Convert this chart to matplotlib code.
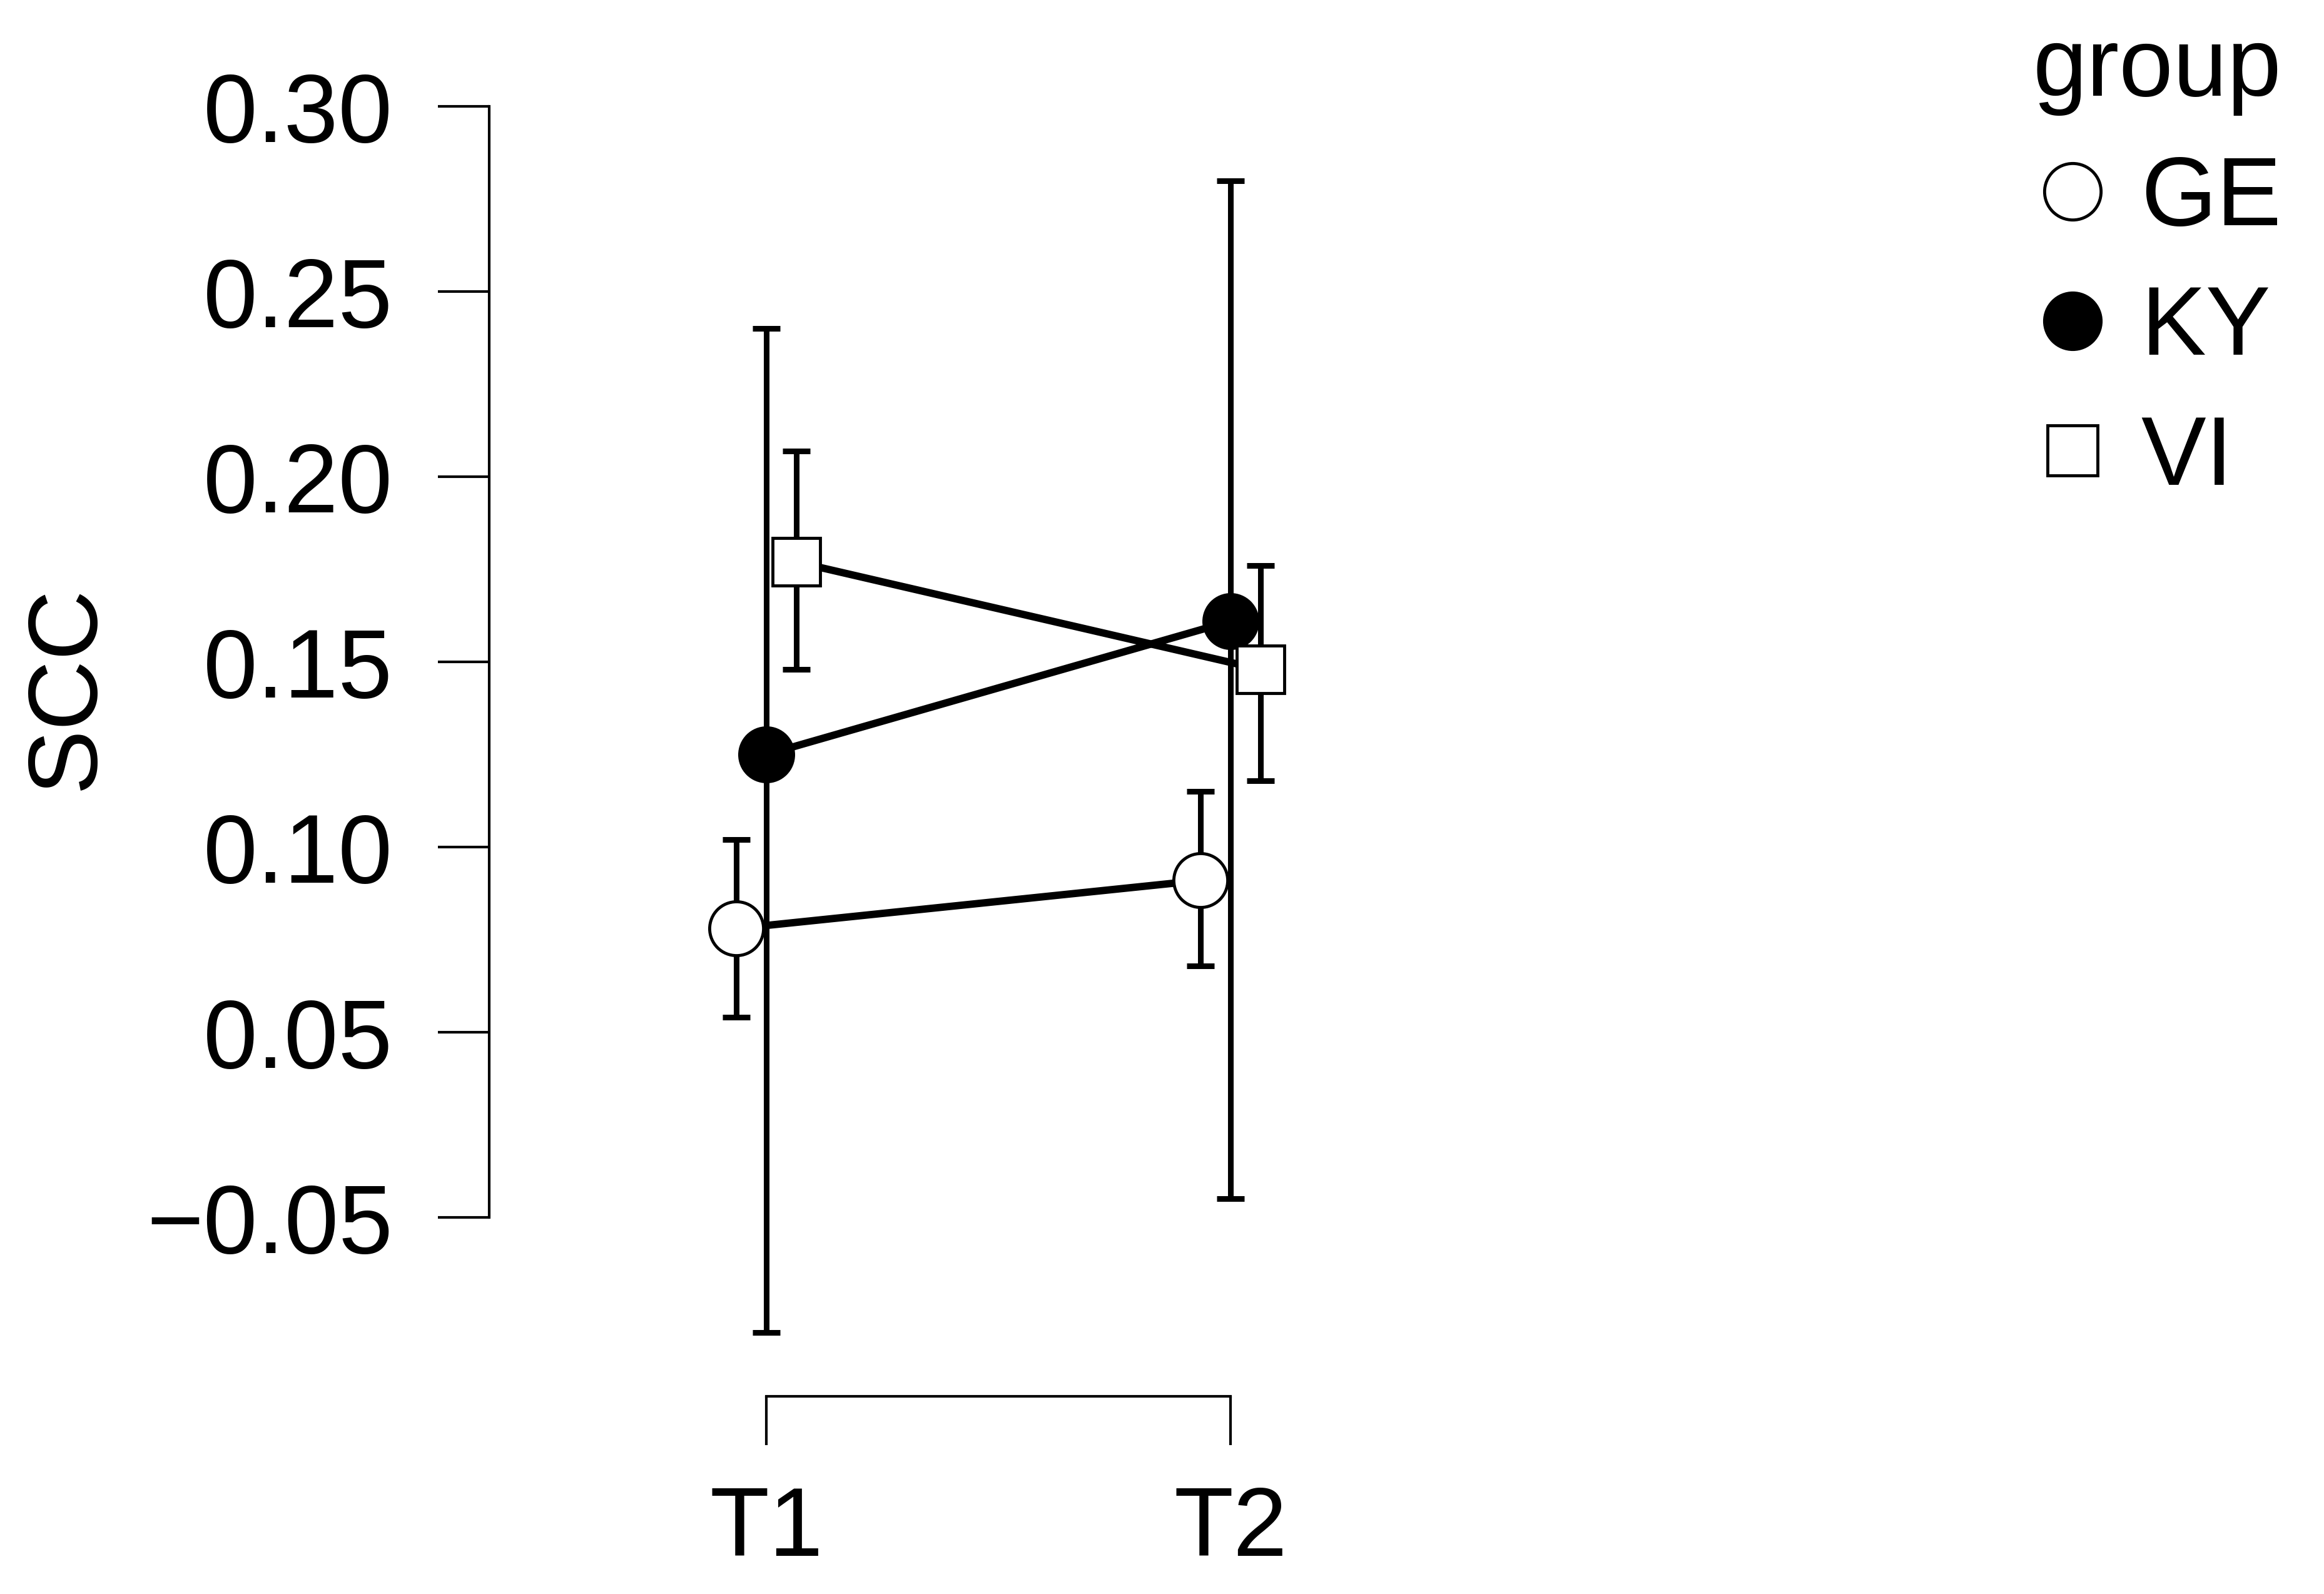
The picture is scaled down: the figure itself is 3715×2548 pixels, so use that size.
import numpy as np
import matplotlib.pyplot as plt
from matplotlib.lines import Line2D

plt.rcParams["font.family"] = ["Liberation Sans", "DejaVu Sans"]

# values
time_points = ["T1", "T2"]
groups = ["GE", "KY", "VI"]

ge_mean = [0.078, 0.091]
ge_lower = [0.054, 0.068]
ge_upper = [0.102, 0.115]

ky_mean = [0.125, 0.161]
ky_lower = [-0.031, 0.005]
ky_upper = [0.240, 0.280]

vi_mean = [0.177, 0.148]
vi_lower = [0.148, 0.118]
vi_upper = [0.207, 0.176]

y_ticks = [0.30, 0.25, 0.20, 0.15, 0.10, 0.05, 0.00]
y_tick_labels = ["0.30", "0.25", "0.20", "0.15", "0.10", "0.05", "\u22120.05"]

FS = 112
W, H = 3715, 2548

series = {
    "GE": (ge_mean, ge_lower, ge_upper),
    "KY": (ky_mean, ky_lower, ky_upper),
    "VI": (vi_mean, vi_lower, vi_upper),
}
styles = {
    "GE": dict(marker="o", mfc="white", ms=62, offset=-0.065),
    "KY": dict(marker="o", mfc="black", ms=62, offset=0.0),
    "VI": dict(marker="s", mfc="white", ms=55, offset=0.065),
}

fig = plt.figure(figsize=(W / 100, H / 100), dpi=100)
ax = fig.add_axes([782 / W, 1 - 2232 / H, (2412 - 782) / W, (2232 - 111) / H])

x = np.arange(len(time_points))
for g in groups:
    mean, lower, upper = (np.array(v) for v in series[g])
    st = styles[g]
    xs = x + st["offset"]
    ax.errorbar(xs, mean, yerr=[mean - lower, upper - mean], fmt="none",
                ecolor="black", elinewidth=6.5, capsize=16, capthick=6.5, zorder=2)
    ax.plot(xs, mean, color="black", lw=8.5, zorder=3)
    ax.plot(xs, mean, ls="none", marker=st["marker"], ms=st["ms"],
            mfc=st["mfc"], mec="black", mew=3.5, zorder=4)

ax.set_xlim(-0.597, 1.6)
ax.set_ylim(-0.0483, 0.31)
ax.set_xticks(x)
ax.set_xticklabels(time_points)
ax.set_yticks(y_ticks)
ax.set_yticklabels(y_tick_labels)

for side in ["top", "right"]:
    ax.spines[side].set_visible(False)
ax.spines["left"].set_bounds(0.0, 0.30)
ax.spines["bottom"].set_bounds(0, 1)
ax.spines["left"].set_linewidth(3)
ax.spines["bottom"].set_linewidth(3)
ax.tick_params(axis="y", length=59, width=3, labelsize=FS, pad=52)
ax.tick_params(axis="x", length=56, width=3, labelsize=FS, pad=46)

fig.text(107 / W, 1 - 1099 / H, "SCC", rotation=90, ha="center", va="center",
         fontsize=FS)

handles = [
    Line2D([0], [0], ls="none", marker=styles[g]["marker"], ms=styles[g]["ms"] + 3,
           mfc=styles[g]["mfc"], mec="black", mew=3.5)
    for g in groups
]
leg = fig.legend(handles, groups, title="group", loc="upper left",
                 bbox_to_anchor=(3250 / W, 1 - 40 / H), frameon=False,
                 fontsize=FS, title_fontsize=FS, borderpad=0, borderaxespad=0,
                 handlelength=0.8, handletextpad=0.3, labelspacing=0.4)

fig.savefig("out.png", dpi=100, facecolor="white")
